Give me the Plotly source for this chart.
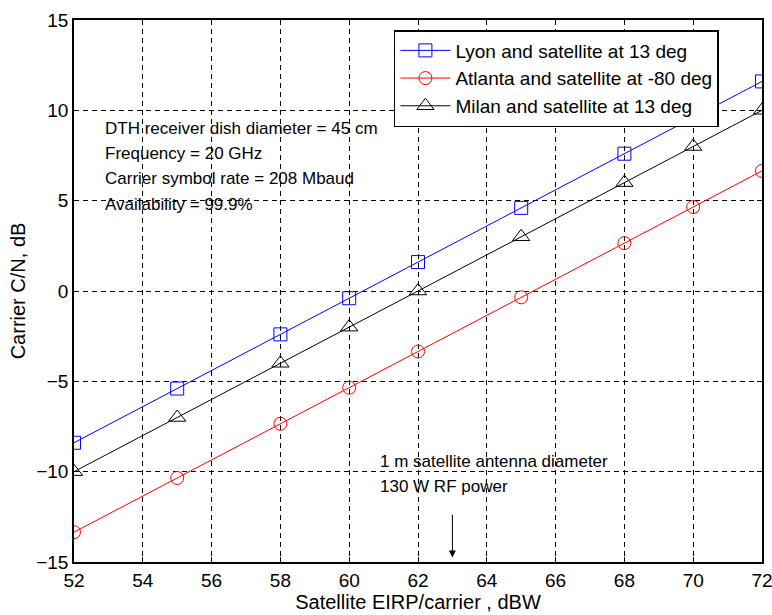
import plotly.graph_objects as go

eirp = [52, 55, 58, 60, 62, 65, 68, 70, 72]
lyon = [-8.4, -5.4, -2.4, -0.4, 1.6, 4.6, 7.6, 9.6, 11.6]
atlanta = [-13.35, -10.35, -7.35, -5.35, -3.35, -0.35, 2.65, 4.65, 6.65]
milan = [-10.0, -7.0, -4.0, -2.0, 0.0, 3.0, 6.0, 8.0, 10.0]

info_lines = ["DTH receiver dish diameter = 45 cm", "Frequency = 20 GHz",
              "Carrier symbol rate = 208 Mbaud", "Availability = 99.9%"]
sat_lines = ["1 m satellite antenna diameter", "130 W RF power"]

FONT = "Liberation Sans, Arial, sans-serif"

fig = go.Figure()
fig.add_trace(go.Scatter(x=eirp, y=lyon, mode="lines+markers", name="Lyon and satellite at 13 deg",
                         line=dict(color="blue", width=1),
                         marker=dict(symbol="square-open", size=13, color="blue", line=dict(width=1))))
fig.add_trace(go.Scatter(x=eirp, y=atlanta, mode="lines+markers", name="Atlanta and satellite at -80 deg",
                         line=dict(color="red", width=1),
                         marker=dict(symbol="circle-open", size=13, color="red", line=dict(width=1))))
fig.add_trace(go.Scatter(x=eirp, y=milan, mode="lines+markers", name="Milan and satellite at 13 deg",
                         line=dict(color="black", width=1),
                         marker=dict(symbol="triangle-up-open", size=15, color="black", line=dict(width=1))))

for i, t in enumerate(info_lines):
    fig.add_annotation(x=52.84, y=8.97 - i * 1.385, text=t, showarrow=False, xanchor="left",
                       yanchor="middle", font=dict(size=17, color="black", family=FONT))
for i, t in enumerate(sat_lines):
    fig.add_annotation(x=60.85, y=-9.46 - i * 1.38, text=t, showarrow=False, xanchor="left",
                       yanchor="middle", font=dict(size=17, color="black", family=FONT))

# arrow pointing at 63 dBW
fig.add_annotation(x=63, y=-14.75, ax=63, ay=-12.3, xref="x", yref="y", axref="x", ayref="y",
                   text="", showarrow=True, arrowhead=2, arrowsize=1.4, arrowwidth=1, arrowcolor="black")

axis_common = dict(showline=True, linecolor="black", linewidth=1.5, mirror="ticks",
                   ticks="inside", ticklen=5, tickcolor="black",
                   showgrid=True, gridcolor="black", griddash="5px,4px", gridwidth=1,
                   zeroline=False, automargin=False, ticklabeloverflow="allow",
                   tickfont=dict(size=19, color="black", family=FONT))

fig.update_xaxes(range=[52, 72], dtick=2, tick0=52,
                 title=dict(text="Satellite EIRP/carrier , dBW", standoff=2,
                            font=dict(size=20, color="black", family=FONT)), **axis_common)
fig.update_yaxes(range=[-15, 15], dtick=5, tick0=-15,
                 title=dict(text="Carrier C/N, dB", standoff=5,
                            font=dict(size=20, color="black", family=FONT)), **axis_common)

fig.update_layout(
    width=772, height=615,
    margin=dict(l=74, r=10, t=20, b=53),
    plot_bgcolor="white", paper_bgcolor="white",
    font=dict(family=FONT, color="black"),
    legend=dict(x=0.465, y=0.9815, xanchor="left", yanchor="top",
                bgcolor="white", bordercolor="black", borderwidth=1.5,
                font=dict(size=19, color="black", family=FONT),
                itemwidth=50, tracegroupgap=0),
)

# drop the default page margin so the figure fills the window exactly
fig.write_html("out.html", config={"displayModeBar": False},
               post_script="document.body.style.margin='0';")
